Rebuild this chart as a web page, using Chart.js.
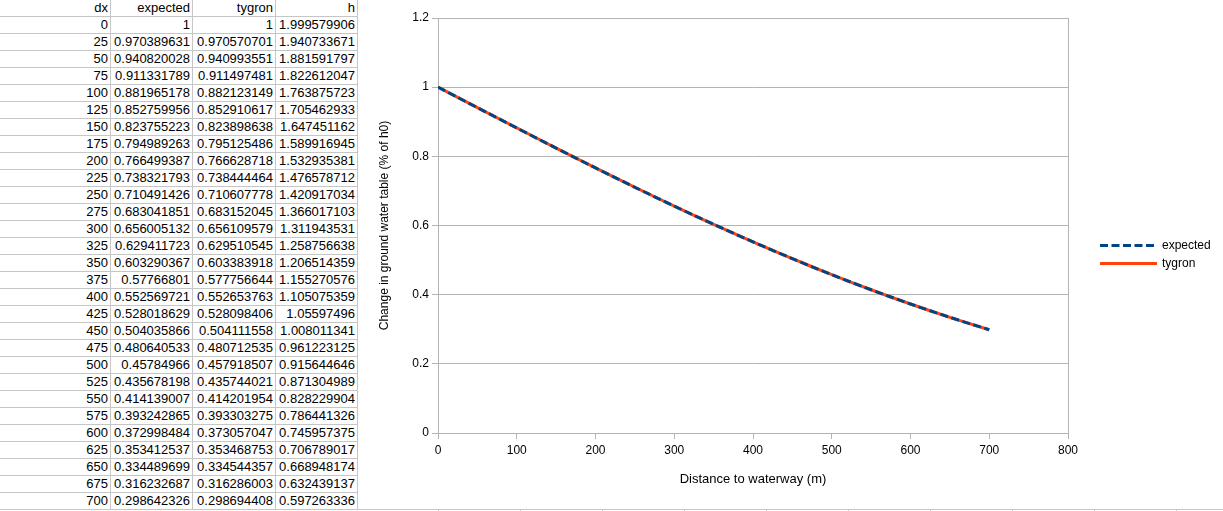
<!DOCTYPE html>
<html>
<head>
<meta charset="utf-8">
<script src="https://cdn.jsdelivr.net/npm/chart.js@4"></script>
<style>
  body { margin: 0; width: 1223px; height: 511px; background: #fff; position: relative; overflow: hidden;
         font-family: 'Liberation Sans', Arial, sans-serif; }
  .cell { position: absolute; height: 17px; box-sizing: border-box; border-bottom: 1px solid #c6c6c6;
          border-right: 1px solid #c6c6c6; font-size: 13px; line-height: 16px; text-align: right;
          padding-right: 2px; white-space: nowrap; color: #000; }
  .sheet-line { position: absolute; background: #c6c6c6; }
  #chartBox { position: absolute; left: 357px; top: 0; width: 866px; height: 509px; }
</style>
</head>
<body>
<div id="sheet"></div>
<div id="chartBox"><canvas id="chart"></canvas></div>
<script>
const headers = ['dx', 'expected', 'tygron', 'h'];

const dx = [0, 25, 50, 75, 100, 125, 150, 175, 200, 225, 250, 275, 300, 325, 350,
  375, 400, 425, 450, 475, 500, 525, 550, 575, 600, 625, 650, 675, 700];

const expected = [1, 0.970389631, 0.940820028, 0.911331789, 0.881965178, 0.852759956,
  0.823755223, 0.794989263, 0.766499387, 0.738321793, 0.710491426, 0.683041851,
  0.656005132, 0.629411723, 0.603290367, 0.57766801, 0.552569721, 0.528018629,
  0.504035866, 0.480640533, 0.45784966, 0.435678198, 0.414139007, 0.393242865,
  0.372998484, 0.353412537, 0.334489699, 0.316232687, 0.298642326];

const tygron = [1, 0.970570701, 0.940993551, 0.911497481, 0.882123149, 0.852910617,
  0.823898638, 0.795125486, 0.766628718, 0.738444464, 0.710607778, 0.683152045,
  0.656109579, 0.629510545, 0.603383918, 0.577756644, 0.552653763, 0.528098406,
  0.504111558, 0.480712535, 0.457918507, 0.435744021, 0.414201954, 0.393303275,
  0.373057047, 0.353468753, 0.334544357, 0.316286003, 0.298694408];

const h = [1.999579906, 1.940733671, 1.881591797, 1.822612047, 1.763875723, 1.705462933,
  1.647451162, 1.589916945, 1.532935381, 1.476578712, 1.420917034, 1.366017103,
  1.311943531, 1.258756638, 1.206514359, 1.155270576, 1.105075359, 1.05597496,
  1.008011341, 0.961223125, 0.915644646, 0.871304989, 0.828229904, 0.786441326,
  0.745957375, 0.706789017, 0.668948174, 0.632439137, 0.597263336];

const xTickLabels = ['0', '100', '200', '300', '400', '500', '600', '700', '800'];
const yTickLabels = ['0', '0.2', '0.4', '0.6', '0.8', '1', '1.2'];

const xTitle = 'Distance to waterway (m)';
const yTitle = 'Change in ground water table (% of h0)';

// spreadsheet part
const sheet = document.getElementById('sheet');
const colLeft = [0, 111, 193, 276];
const colWidth = [111, 82, 83, 82];

function addCell(row, col, text) {
  const div = document.createElement('div');
  div.className = 'cell';
  div.style.top = (row * 17) + 'px';
  div.style.left = colLeft[col] + 'px';
  div.style.width = colWidth[col] + 'px';
  div.textContent = text;
  sheet.appendChild(div);
}

headers.forEach((name, c) => addCell(0, c, name));
dx.forEach((d, i) => {
  addCell(i + 1, 0, String(d));
  addCell(i + 1, 1, String(expected[i]));
  addCell(i + 1, 2, String(tygron[i]));
  addCell(i + 1, 3, String(h[i]));
});

// grid peeking out below the chart object
const bottomLine = document.createElement('div');
bottomLine.className = 'sheet-line';
bottomLine.style.cssText = 'left:357px;top:509px;width:866px;height:1px;';
sheet.appendChild(bottomLine);
for (let x = 438; x < 1223; x += 82) {
  const stub = document.createElement('div');
  stub.className = 'sheet-line';
  stub.style.cssText = 'left:' + x + 'px;top:509px;width:1px;height:2px;';
  sheet.appendChild(stub);
}

// legend drawn on the right of the plot
const sideLegend = {
  id: 'sideLegend',
  afterDraw(chart) {
    const ctx = chart.ctx;
    const area = chart.chartArea;
    const x0 = area.right + 32;
    const mid = chart.height / 2;
    ctx.save();
    chart.data.datasets.forEach((ds, i) => {
      const y = mid - 9 + i * 18;
      ctx.beginPath();
      ctx.strokeStyle = ds.borderColor;
      ctx.lineWidth = ds.borderWidth;
      ctx.setLineDash(ds.borderDash || []);
      ctx.moveTo(x0, y);
      ctx.lineTo(x0 + 57, y);
      ctx.stroke();
      ctx.setLineDash([]);
      ctx.fillStyle = '#000';
      ctx.font = '12px "Liberation Sans"';
      ctx.textBaseline = 'middle';
      ctx.fillText(ds.label, x0 + 62, y);
    });
    ctx.restore();
  }
};

const gridColor = '#b3b3b3';

new Chart(document.getElementById('chart'), {
  type: 'line',
  data: {
    datasets: [
      {
        label: 'expected',
        data: dx.map((d, i) => ({ x: d, y: expected[i] })),
        borderColor: '#004586',
        borderWidth: 3,
        borderDash: [8, 3.5],
        pointRadius: 0,
        tension: 0,
      },
      {
        label: 'tygron',
        data: dx.map((d, i) => ({ x: d, y: tygron[i] })),
        borderColor: '#ff420e',
        borderWidth: 3,
        pointRadius: 0,
        tension: 0,
      },
    ],
  },
  options: {
    responsive: true,
    maintainAspectRatio: false,
    animation: false,
    layout: { padding: { left: 0, top: 18, right: 155, bottom: 0 } },
    plugins: { legend: { display: false }, tooltip: { enabled: false } },
    scales: {
      x: {
        type: 'linear',
        min: 0,
        max: 800,
        afterFit(scale) { scale.height = 76; },
        ticks: {
          stepSize: 100,
          padding: 4,
          color: '#000',
          font: { family: 'Liberation Sans', size: 12 },
          maxRotation: 0,
          callback: (v, i) => xTickLabels[i],
        },
        grid: {
          color: (c) => (c.tick && c.tick.value === 800 ? gridColor : 'rgba(0,0,0,0)'),
          tickColor: gridColor,
          tickLength: 6,
        },
        border: { color: gridColor },
        title: {
          display: true,
          text: xTitle,
          color: '#000',
          font: { family: 'Liberation Sans', size: 13 },
          padding: { top: 4, bottom: 22 },
        },
      },
      y: {
        min: 0,
        max: 1.2,
        afterFit(scale) { scale.width = 81; },
        ticks: {
          stepSize: 0.2,
          color: '#000',
          font: { family: 'Liberation Sans', size: 12 },
          callback: (v, i) => yTickLabels[i],
        },
        grid: { color: gridColor, tickLength: 6 },
        border: { color: gridColor },
        title: {
          display: true,
          text: yTitle,
          color: '#000',
          font: { family: 'Liberation Sans', size: 12 },
          padding: { top: 20, bottom: 4 },
        },
      },
    },
  },
  plugins: [sideLegend],
});
</script>
</body>
</html>
